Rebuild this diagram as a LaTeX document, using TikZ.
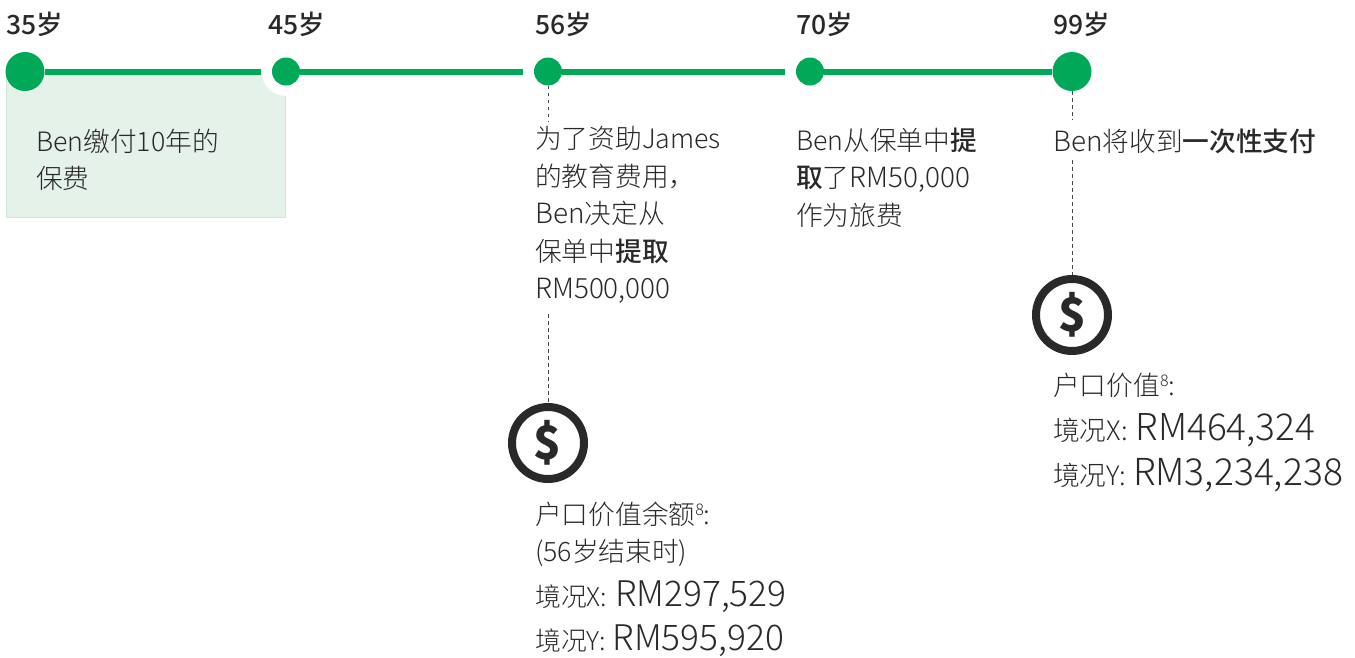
\documentclass[tikz,border=0pt]{standalone}
\usepackage{fontspec}
\setmainfont{Noto Sans CJK SC Light}[BoldFont={Noto Sans CJK SC Medium}]
\newfontfamily\headf{Noto Sans CJK SC Medium}
\newfontfamily\dollarf{Noto Sans CJK SC Black}
\definecolor{brand}{HTML}{00A957}
\definecolor{ink}{HTML}{2B2829}
\definecolor{boxfill}{HTML}{E4F2EA}
\definecolor{boxline}{HTML}{CDE7D9}
\newcommand{\lat}[1]{{\fontsize{27.9}{27.9}\selectfont #1}}
\tikzset{
  x=1pt,y=-1pt,
  age/.style={anchor=base west,inner sep=0pt,text=ink,font=\headf\fontsize{26.5}{26.5}\selectfont},
  body/.style={anchor=base west,inner sep=0pt,text=ink,font=\fontsize{26.7}{26.7}\selectfont},
  bigdot/.style={circle,fill=brand,minimum size=39pt,inner sep=0pt},
  smalldot/.style={circle,fill=brand,minimum size=28pt,inner sep=0pt},
  halo/.style={circle,fill=white,minimum size=49pt,inner sep=0pt},
  tl/.style={draw=brand,line width=6pt},
  dashline/.style={draw=ink!85,line width=0.9pt,dash pattern=on 3.5pt off 3.5pt},
  coin/.style={circle,draw=ink,fill=white,line width=8pt,minimum size=72pt,inner sep=0pt,text=ink,font=\dollarf\fontsize{46}{46}\selectfont}
}
\begin{document}
\begin{tikzpicture}
\useasboundingbox (0,0) rectangle (1355,657);
\node[draw=boxline,fill=boxfill,line width=1pt,minimum width=279pt,minimum height=145pt,inner sep=0pt,anchor=north west] (box) at (6,72) {};
% halos and dots
\node[halo] (h45) at (286,71.5) {};
\node[halo] (h56) at (548,71.5) {};
\node[halo] (h70) at (810,71.5) {};
\node[bigdot] (d35) at (25,71.5) {};
\node[smalldot] (d45) at (286,71.5) {};
\node[smalldot] (d56) at (548,71.5) {};
\node[smalldot] (d70) at (810,71.5) {};
\node[bigdot] (d99) at (1072,71.5) {};
\draw[tl] (d35) -- (h45);
\draw[tl] (d45) -- (h56);
\draw[tl] (d56) -- (h70);
\draw[tl] (d70) -- (d99);
% age labels
\node[age] (a35) at (6,34) {35岁};
\node[age] (a45) at (268,34) {45岁};
\node[age] (a56) at (535,34) {56岁};
\node[age] (a70) at (796.5,34) {70岁};
\node[age] (a99) at (1053,34) {99岁};
% box text
\node[body] (b1) at (36,151) {Ben缴付10年的};
\node[body] (b2) at (36,188) {保费};
% 56 text
\node[body] (c1) at (535,148) {为了资助James};
\node[body] (c2) at (535,186) {的教育费用，};
\node[body] (c3) at (535,223) {\lat{Ben}决定从};
\node[body] (c4) at (535,261) {保单中\textbf{提取}};
\node[body] (c5) at (535,298) {\lat{RM500,000}};
% 70 text
\node[body] (e1) at (796,150) {Ben从保单中\textbf{提}};
\node[body] (e2) at (796,187) {\textbf{取}了\lat{RM50,000}};
\node[body] (e3) at (796,225) {作为旅费};
% 99 text
\node[body] (f1) at (1053,151) {\lat{Ben}将收到\textbf{一次性支付}};
% coins
\node[coin] (k56) at (548,443) {\$};
\node[coin] (k99) at (1072,315) {\$};
% dashed connectors
\coordinate (g1) at (548,122);
\coordinate (g2) at (548,314);
\coordinate (g3) at (1072,120);
\coordinate (g4) at (1072,160);
\draw[dashline] (d56) -- (g1);
\draw[dashline] (g2) -- (k56);
\draw[dashline] (d99) -- (g3);
\draw[dashline] (g4) -- (k99);
% 56 values
\node[body] (m1) at (535,524) {户口价值余额\raisebox{9pt}{\fontsize{16}{16}\selectfont 8}:};
\node[body] (m2) at (535,561) {(56岁结束时)};
\node[body] (m3) at (535,606) {\fontsize{25.8}{25.8}\selectfont 境况X:\hspace{8pt}\fontsize{35.3}{35.3}\selectfont RM297,529};
\node[body] (m4) at (535,650) {\fontsize{25.8}{25.8}\selectfont 境况Y:\hspace{7pt}\fontsize{35.3}{35.3}\selectfont RM595,920};
% 99 values
\node[body] (n1) at (1053,395) {户口价值\raisebox{9pt}{\fontsize{16}{16}\selectfont 8}:};
\node[body] (n2) at (1053,440) {境况X:\hspace{8pt}\fontsize{37}{37}\selectfont RM464,324};
\node[body] (n3) at (1053,485) {境况Y:\hspace{7pt}\fontsize{37.2}{37.2}\selectfont RM3,234,238};
\end{tikzpicture}
\end{document}
